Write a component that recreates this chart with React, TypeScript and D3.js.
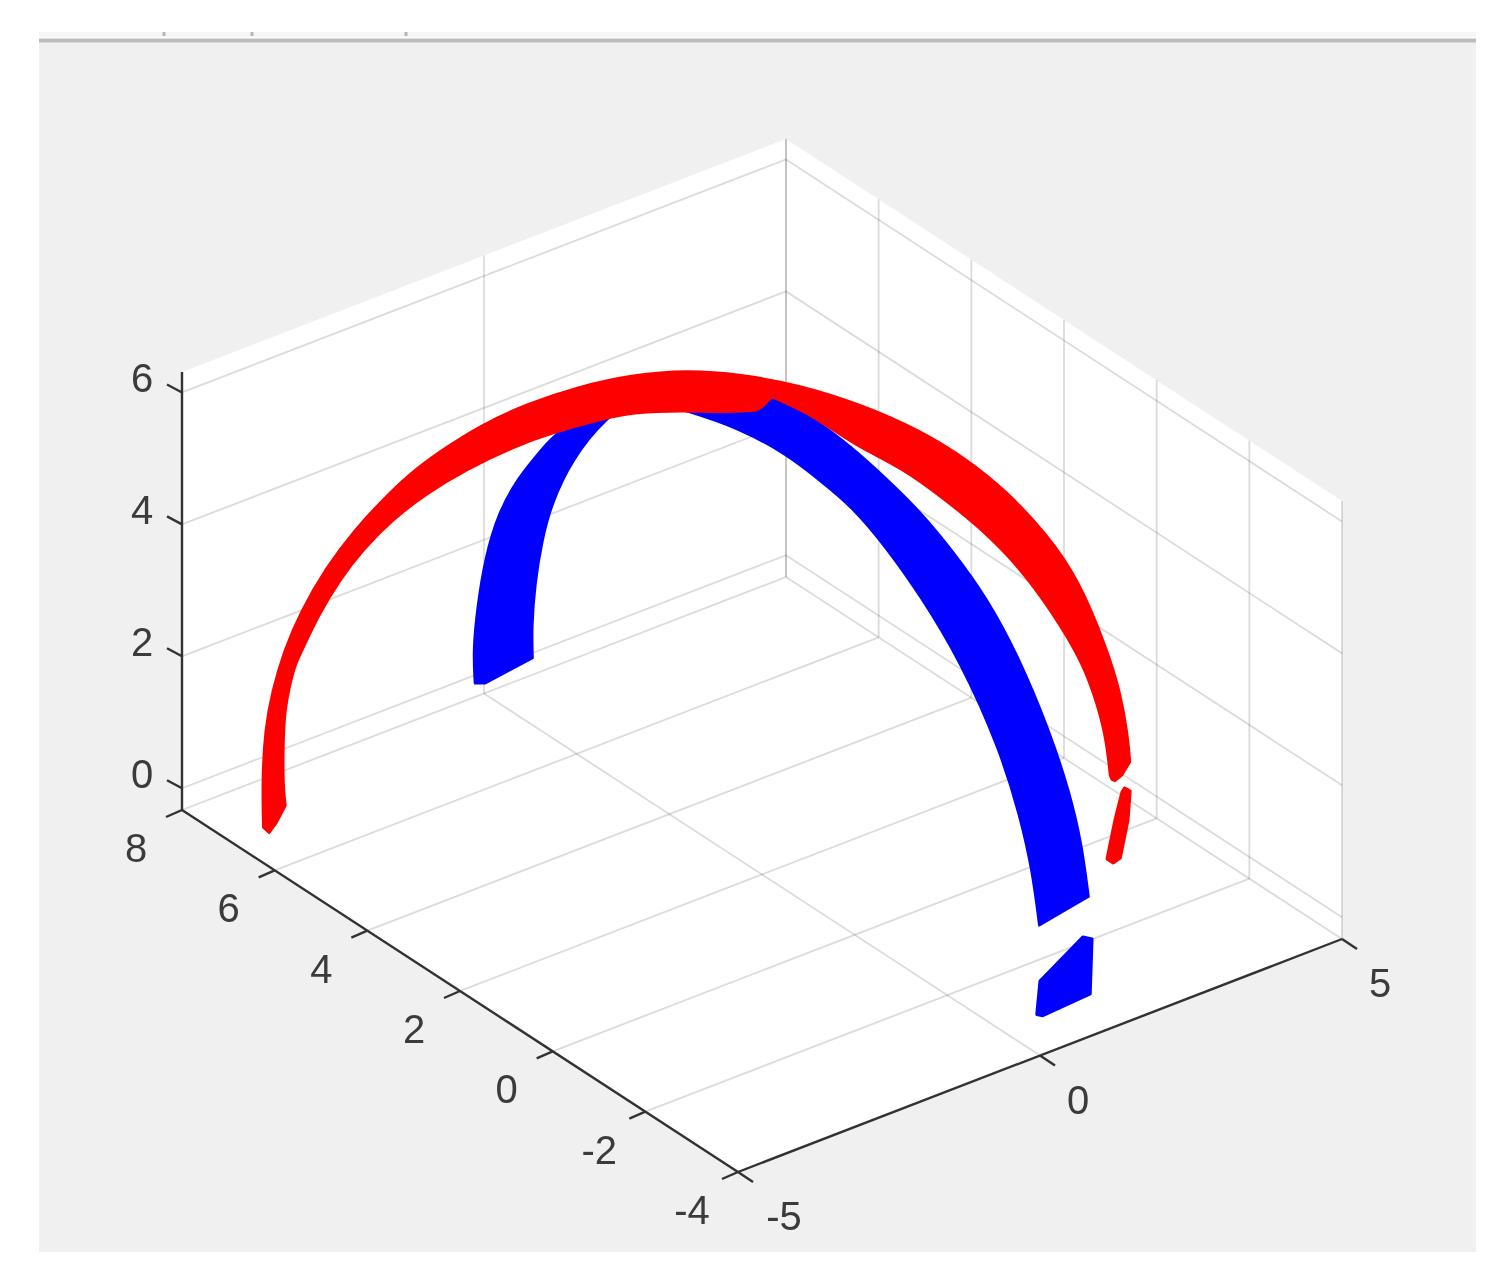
import * as d3 from "d3"

type P3 = [number, number, number]

const xTicks = [-5, 0, 5]
const yTicks = [-4, -2, 0, 2, 4, 6, 8]
const zTicks = [0, 2, 4, 6]

const xLim = [-5, 5]
const yLim = [-4, 8]
const zLim = [-0.33, 6.31]

// red ribbon, [x, y, z]
const redOuter: P3[] = [
  [-4.87, 6.42, 0.08], [-4.88, 6.43, 0.8], [-4.85, 6.41, 1.56], [-4.77, 6.36, 2.14], [-4.63, 6.28, 2.75],
  [-4.45, 6.17, 3.31], [-4.16, 5.99, 3.97], [-3.84, 5.8, 4.51], [-3.52, 5.61, 4.94], [-3.21, 5.43, 5.31],
  [-2.86, 5.22, 5.63], [-2.41, 4.95, 5.98], [-1.89, 4.63, 6.27], [-1.29, 4.27, 6.49], [-0.67, 3.9, 6.62],
  [-0.07, 3.54, 6.64], [0.54, 3.18, 6.53], [1.22, 2.77, 6.31], [1.9, 2.36, 5.97], [2.58, 1.95, 5.52],
  [3.11, 1.63, 5.04], [3.57, 1.36, 4.51], [4.02, 1.09, 3.83], [4.39, 0.87, 3.1], [4.71, 0.67, 2.0],
  [4.85, 0.59, 1.38], [4.94, 0.54, 0.72], [4.96, 0.52, 0.3],
]
const redEnd: P3[] = [[4.87, 0.58, 0.1], [4.79, 0.63, 0.02], [4.75, 0.65, 0.05]]
const redInnerRight: P3[] = [
  [4.73, 0.66, 0.12], [4.68, 0.69, 0.75], [4.54, 0.78, 1.41], [4.39, 0.87, 1.92], [4.09, 1.05, 2.61],
  [3.71, 1.27, 3.34], [3.26, 1.54, 3.98], [2.84, 1.8, 4.46], [2.39, 2.07, 4.94], [1.9, 2.36, 5.3],
  [1.61, 2.53, 5.58], [1.3, 2.72, 5.88], [0.9, 2.96, 6.15],
]
const redInnerLeft: P3[] = [
  [0.79, 3.03, 6.0], [0.71, 3.07, 5.96], [0.33, 3.3, 5.96], [-0.09, 3.55, 6.02], [-0.67, 3.9, 6.04],
  [-1.0, 4.1, 5.97], [-1.56, 4.44, 5.81], [-2.01, 4.71, 5.63], [-2.58, 5.05, 5.31], [-3.01, 5.31, 4.99],
  [-3.4, 5.54, 4.63], [-3.74, 5.74, 4.2], [-4.0, 5.9, 3.76], [-4.25, 6.05, 3.22], [-4.42, 6.15, 2.74],
  [-4.5, 6.2, 2.53], [-4.56, 6.24, 2.22], [-4.62, 6.27, 1.84], [-4.64, 6.28, 1.34], [-4.64, 6.28, 0.68],
  [-4.61, 6.27, 0.39],
]
const redTip: P3[] = [[-4.72, 6.33, 0.13], [-4.8, 6.38, -0.01]]
const redPiece: P3[] = [
  [4.9, 0.56, -0.09], [4.96, 0.52, -0.14], [4.94, 0.54, -0.58], [4.85, 0.59, -1.15],
  [4.77, 0.64, -1.22], [4.7, 0.68, -1.15], [4.79, 0.63, -0.58], [4.87, 0.58, -0.15],
]

// blue ribbon, one edge at x = 0 and the other at x = 1
const blueEdgeA: P3[] = [
  [0, 8.2, -0.27], [0, 8.24, 0.21], [0, 8.15, 0.91], [0, 7.98, 1.74], [0, 7.7, 2.54], [0, 7.27, 3.28],
  [0, 6.75, 3.95], [0, 6.47, 4.31], [0, 5.5, 5.21], [0, 4.63, 5.69], [0, 3.64, 5.95], [0, 2.48, 6.21],
  [0, 1.46, 6.28], [0, 0.75, 6.21], [0, 0.04, 6.13], [0, -0.7, 5.84], [0, -1.41, 5.46], [0, -2.27, 4.87],
  [0, -3.14, 3.9], [0, -3.57, 3.08], [0, -3.83, 2.39], [0, -3.98, 1.63],
]
const blueEdgeB: P3[] = [
  [1, -3.75, 1.61], [1, -3.6, 2.35], [1, -3.35, 2.99], [1, -2.91, 3.74], [1, -2.2, 4.6], [1, -1.55, 5.14],
  [1, -0.82, 5.51], [1, -0.11, 5.79], [1, 0.61, 5.95], [1, 1.34, 6.09], [1, 2.33, 6.16], [1, 3.09, 6.06],
  [1, 4.64, 5.67], [1, 5.72, 5.02], [1, 6.71, 4.07], [1, 7.41, 3.12], [1, 7.84, 2.27], [1, 8.05, 1.61],
  [1, 8.2, 0.89], [1, 8.27, 0.19], [1, 8.25, -0.26],
]
const blueCorner: P3 = [0, 7.98, -0.17]
const bluePiece: P3[] = [
  [1, -3.62, 0.94], [1, -3.82, 1.0], [1, -3.78, 0.15], [0, -4.06, 0.3], [0, -3.93, 0.26], [0, -4.0, 0.8],
]

const width = 1503
const height = 1288

// box projection: corner at (xmin, ymin, zmin) and one vector per axis
const corner = { x: 738, y: 1172 }
const xVec = { x: 604, y: -233 }
const yVec = { x: -556, y: -362 }
const fx = d3.scaleLinear().domain(xLim).range([0, 1])
const fy = d3.scaleLinear().domain(yLim).range([0, 1])
const fz = d3.scaleLinear().domain(zLim).range([0, 438])

function project([x, y, z]: P3): [number, number] {
  return [
    corner.x + xVec.x * fx(x) + yVec.x * fy(y),
    corner.y + xVec.y * fx(x) + yVec.y * fy(y) - fz(z),
  ]
}

const smooth = d3.line<P3>().x((d) => project(d)[0]).y((d) => project(d)[1]).curve(d3.curveBasis)
const straight = d3.line<P3>().x((d) => project(d)[0]).y((d) => project(d)[1])

const join = (...parts: string[]) => parts.map((p, i) => (i === 0 ? p : "L" + p.slice(1))).join("") + "Z"

const seg = (a: P3, b: P3) => straight([a, b]) as string

const [x0, x1] = xLim
const [y0, y1] = yLim
const [z0, z1] = zLim

const gridPaths = [
  ...xTicks.map((v) => seg([v, y0, z0], [v, y1, z0])),
  ...xTicks.map((v) => seg([v, y1, z0], [v, y1, z1])),
  ...yTicks.map((v) => seg([x0, v, z0], [x1, v, z0])),
  ...yTicks.map((v) => seg([x1, v, z0], [x1, v, z1])),
  ...zTicks.map((v) => seg([x0, y1, v], [x1, y1, v])),
  ...zTicks.map((v) => seg([x1, y1, v], [x1, y0, v])),
]

const boxOutline = [
  [x0, y1, z1], [x1, y1, z1], [x1, y0, z1], [x1, y0, z0], [x0, y0, z0], [x0, y1, z0],
] as P3[]

const bluePath = join(
  straight([blueCorner, blueEdgeA[0]]) as string,
  smooth(blueEdgeA) as string,
  smooth(blueEdgeB) as string,
)
const redPath = join(
  smooth(redOuter) as string,
  straight(redEnd) as string,
  smooth(redInnerRight) as string,
  straight(redInnerLeft.slice(0, 2)) as string,
  smooth(redInnerLeft.slice(1)) as string,
  straight(redTip) as string,
)

const axisColor = "#333333"
const labelColor = "#3a3a3a"
const labelFont = "'Liberation Sans', Arial, sans-serif"

export default function App() {
  return (
    <svg width={width} height={height} style={{ position: "absolute", left: 0, top: 0, background: "#fff" }}>
      <defs>
        <filter id="soft" x="0" y="0" width="100%" height="100%" filterUnits="userSpaceOnUse">
          <feGaussianBlur stdDeviation={0.7} />
        </filter>
      </defs>
      <rect x={39} y={40} width={1437} height={1212} fill="#f0f0f0" />
      <rect x={39} y={32} width={1437} height={5} fill="#f6f6f6" />
      <rect x={39} y={38.5} width={1437} height={4} fill="#bdbdbd" />
      {[164, 252, 406].map((x) => (
        <rect key={x} x={x - 1.5} y={32} width={3} height={4} fill="#b5b5b5" />
      ))}

      <path d={straight(boxOutline) + "Z"} fill="#fff" />

      <g filter="url(#soft)">
        {gridPaths.map((d, i) => (
          <path key={i} d={d} fill="none" stroke="#000" strokeOpacity={0.14} strokeWidth={1.8} />
        ))}

        <path d={bluePath} fill="#0000ff" stroke="#0000ff" strokeWidth={2} strokeLinejoin="round" />
        <path d={straight(bluePiece) + "Z"} fill="#0000ff" stroke="#0000ff" strokeWidth={3} strokeLinejoin="round" />
        <path d={redPath} fill="#ff0000" stroke="#ff0000" strokeWidth={2} strokeLinejoin="round" />
        <path d={straight(redPiece) + "Z"} fill="#ff0000" stroke="#ff0000" strokeWidth={3} strokeLinejoin="round" />

        <g fill="none" stroke={axisColor} strokeWidth={2.4}>
          <path d={seg([x0, y1, z0], [x0, y1, z1])} />
          <path d={seg([x0, y1, z0], [x0, y0, z0])} />
          <path d={seg([x0, y0, z0], [x1, y0, z0])} />
          {zTicks.map((v) => {
            const [px, py] = project([x0, y1, v])
            return <line key={v} x1={px} y1={py} x2={px - 15} y2={py - 8} />
          })}
          {yTicks.map((v) => {
            const [px, py] = project([x0, v, z0])
            return <line key={v} x1={px} y1={py} x2={px - 16} y2={py + 7} />
          })}
          {xTicks.map((v) => {
            const [px, py] = project([v, y0, z0])
            return <line key={v} x1={px} y1={py} x2={px + 15} y2={py + 10} />
          })}
        </g>

        <g fill={labelColor} fontFamily={labelFont} fontSize={40} textAnchor="middle" dominantBaseline="central">
          {zTicks.map((v) => {
            const [px, py] = project([x0, y1, v])
            return <text key={v} x={px - 40} y={py - 14}>{v}</text>
          })}
          {yTicks.map((v) => {
            const [px, py] = project([x0, v, z0])
            return <text key={v} x={px - 46} y={py + 38}>{v}</text>
          })}
          {xTicks.map((v) => {
            const [px, py] = project([v, y0, z0])
            return <text key={v} x={px + (v < 0 ? 46 : 38)} y={py + 44}>{v}</text>
          })}
        </g>
      </g>
    </svg>
  )
}
